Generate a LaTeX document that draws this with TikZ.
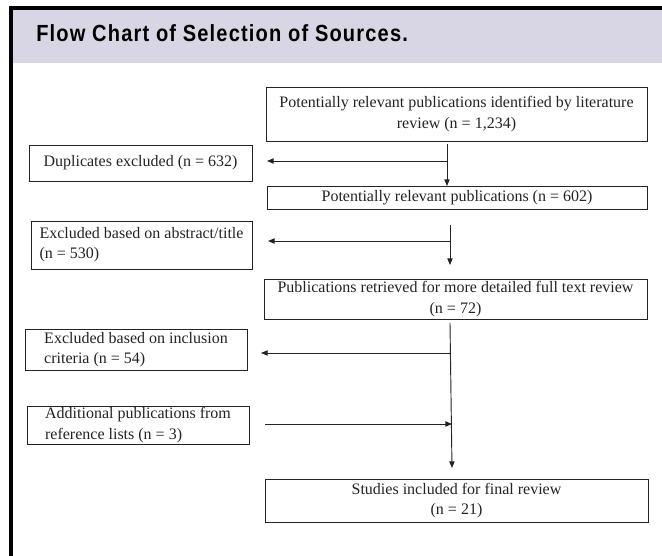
\documentclass[tikz,border=0pt]{standalone}
\usepackage{fontspec}
\setmainfont{Liberation Serif}
\newfontfamily\hdrfont{Liberation Sans}[FakeStretch=0.86, LetterSpace=5]
\usetikzlibrary{arrows.meta}
\definecolor{hdrbg}{RGB}{216,214,228}
\definecolor{ink}{RGB}{35,35,35}
\tikzset{
  box/.style={draw=ink, line width=0.7pt, inner sep=0pt, align=center,
    font=\fontsize{12}{15.2}\selectfont, text=ink},
  lbox/.style={box, align=left},
  flow/.style={draw=ink, line width=0.7pt, -{Triangle[length=5pt,width=4pt]}},
  plain/.style={draw=ink, line width=0.7pt}
}
\begin{document}
\begin{tikzpicture}[x=0.75pt,y=-0.75pt]
\useasboundingbox (0,0) rectangle (662,556);
% frame and header
\fill[hdrbg] (13,10) rectangle (662,63);
\fill[black] (9,6) rectangle (662,10);
\fill[black] (9,6) rectangle (13,556);
\node[anchor=base west, inner sep=0pt, font=\hdrfont\bfseries\fontsize{17.5}{19}\selectfont]
  (title) at (36,42) {Flow Chart of Selection of Sources.};
% main column
\node[box, minimum width=285.75pt, minimum height=40.5pt] (b1) at (456.5,114)
  {Potentially relevant publications identified by literature\\review (n = 1,234)};
\node[box, minimum width=285pt, minimum height=17.25pt] (b2) at (457,197.5)
  {Potentially relevant publications (n = 602)};
\node[box, minimum width=287.25pt, minimum height=30pt] (b3) at (455.5,299)
  {Publications retrieved for more detailed full text review\\(n = 72)};
\node[box, minimum width=287.25pt, minimum height=32.25pt] (b4) at (456.5,500.5)
  {Studies included for final review\\(n = 21)};
% side boxes
\node[box, minimum width=167.25pt, minimum height=27pt] (l1) at (140.5,163)
  {Duplicates excluded (n = 632)};
\node[lbox, minimum width=165.75pt, minimum height=36pt] (l2) at (141.5,245)
  {Excluded based on abstract/title\\(n = 530)};
\node[lbox, minimum width=166.5pt, minimum height=30.75pt] (l3) at (136,349.5)
  {Excluded based on inclusion\\criteria (n = 54)};
\node[lbox, minimum width=166.5pt, minimum height=28.5pt] (l4) at (138,425)
  {Additional publications from\\reference lists (n = 3)};
% connector points
\coordinate (v1a) at (447,144);
\coordinate (v1b) at (447,186);
\coordinate (h1a) at (447,161);
\coordinate (h1b) at (267,161);
\coordinate (v2a) at (450,225);
\coordinate (v2b) at (450,265);
\coordinate (h2a) at (450,241);
\coordinate (h2b) at (268,241);
\coordinate (v3a) at (450,323);
\coordinate (v3b) at (452,468);
\coordinate (h3a) at (450,353);
\coordinate (h3b) at (261,353);
\coordinate (h4a) at (265,424);
\coordinate (h4b) at (452,424);
% connectors
\draw[flow] (v1a) -- (v1b);
\draw[flow] (h1a) -- (h1b);
\draw[flow] (v2a) -- (v2b);
\draw[flow] (h2a) -- (h2b);
\draw[flow] (v3a) -- (v3b);
\draw[flow] (h3a) -- (h3b);
\draw[flow] (h4a) -- (h4b);
\end{tikzpicture}
\end{document}
